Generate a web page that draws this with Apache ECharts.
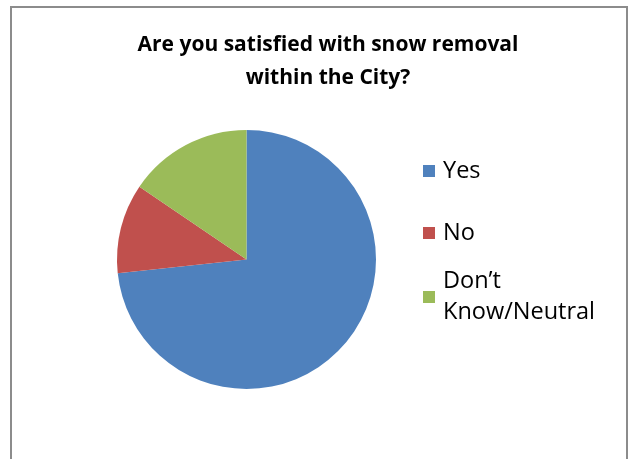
<!DOCTYPE html>
<html>
<head>
<meta charset="utf-8">
<script src="https://cdn.jsdelivr.net/npm/echarts@6/dist/echarts.min.js"></script>
<style>
  html, body { margin: 0; padding: 0; background: #fff; }
  #chart { width: 634px; height: 459px; }
</style>
</head>
<body>
<div id="chart"></div>
<script>
// answers and their share of responses (percent)
const categories = ['Yes', 'No', 'Don’t Know/Neutral'];
const shares = [73.3, 11.2, 15.5];
const colors = ['#4F81BD', '#C0504D', '#9BBB59'];

const chart = echarts.init(document.getElementById('chart'), null, { renderer: 'canvas' });

const legendText = {
  color: '#000',
  fontFamily: 'Open Sans',
  fontSize: 23.5,
  lineHeight: 31,
  padding: [0, 0, 0, 3]
};

// one legend per entry so the wrapped entry keeps its box on the first line
function legendFor(i, top, extra) {
  return Object.assign({
    orient: 'vertical',
    left: 423,
    top: top,
    padding: 0,
    itemWidth: 12,
    itemHeight: 12,
    itemGap: 0,
    icon: 'rect',
    selectedMode: false,
    data: [categories[i]],
    textStyle: Object.assign({}, legendText)
  }, extra || {});
}

const option = {
  backgroundColor: '#fff',
  animation: false,
  color: colors,
  title: {
    text: 'Are you satisfied with snow removal\nwithin the City?',
    left: 323,
    top: 24,
    textAlign: 'center',
    textStyle: {
      fontFamily: 'Open Sans',
      fontWeight: 'bold',
      fontSize: 21,
      lineHeight: 33,
      color: '#000'
    }
  },
  legend: [
    legendFor(0, 171 - 15.5),
    legendFor(1, 233 - 15.5),
    legendFor(2, 297 - 46.5, {
      formatter: function () { return 'Don’t\nKnow/Neutral'; },
      textStyle: Object.assign({}, legendText, { padding: [31, 0, 0, 3] })
    })
  ],
  graphic: [{
    type: 'rect',
    shape: { x: 11, y: 7, width: 616, height: 470 },
    style: { fill: null, stroke: '#8c8c8c', lineWidth: 2 },
    silent: true
  }],
  series: [{
    type: 'pie',
    center: [246.5, 259.5],
    radius: 129.5,
    startAngle: 90,
    clockwise: true,
    label: { show: false },
    labelLine: { show: false },
    emphasis: { disabled: true },
    itemStyle: { borderWidth: 0 },
    data: categories.map(function (name, i) {
      return { name: name, value: shares[i] };
    })
  }]
};

chart.setOption(option);
</script>
</body>
</html>
